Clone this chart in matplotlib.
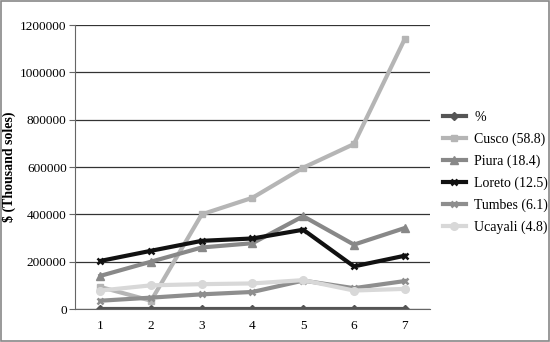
import matplotlib.pyplot as plt
from matplotlib.patches import Rectangle

periods = [1, 2, 3, 4, 5, 6, 7]
pct = [100, 100, 100, 100, 100, 100, 100]
cusco = [93000, 35000, 400000, 470000, 597000, 697000, 1140000]
piura = [140000, 200000, 260000, 278000, 392000, 272000, 342000]
loreto = [203000, 246000, 288000, 298000, 335000, 180000, 225000]
tumbes = [35000, 48000, 62000, 72000, 120000, 88000, 118000]
ucayali = [78000, 100000, 105000, 108000, 122000, 78000, 85000]

plt.rcParams['font.family'] = ['Liberation Serif', 'DejaVu Serif']

fig = plt.figure(figsize=(5.5, 3.42), dpi=100)
ax = fig.add_axes([75 / 550, 33 / 342, 355 / 550, 284 / 342])

# series drawn bottom to top like the original
ax.plot(periods, pct, color='#555555', marker='D', ms=4, lw=3, label='%')
ax.plot(periods, cusco, color='#b5b5b5', marker='s', ms=5, lw=3, label='Cusco (58.8)')
ax.plot(periods, piura, color='#888888', marker='^', ms=5.5, lw=3, label='Piura (18.4)')
ax.plot(periods, loreto, color='#111111', marker='x', ms=5, mew=1.8, lw=3, label='Loreto (12.5)')
ax.plot(periods, tumbes, color='#8e8e8e', marker='x', ms=5, mew=1.8, lw=3, label='Tumbes (6.1)')
ax.plot(periods, ucayali, color='#d8d8d8', marker='o', ms=5.5, lw=3, label='Ucayali (4.8)')

ax.set_xlim(0.5, 7.5)
ax.set_ylim(0, 1200000)
ax.set_xticks(periods)
ax.set_yticks(range(0, 1200001, 200000))
ax.ticklabel_format(axis='y', style='plain')
ax.yaxis.grid(True, color='#333333', lw=0.9)
ax.set_axisbelow(True)
for s in ['top', 'right']:
    ax.spines[s].set_visible(False)
ax.spines['left'].set_color('#666666')
ax.spines['bottom'].set_color('#666666')
ax.tick_params(axis='both', labelsize=9.5, length=4, color='#666666')
ax.tick_params(axis='y', pad=2)
ax.tick_params(axis='x', length=0, pad=8)
ax.set_ylabel('$ (Thousand soles)', fontsize=10, fontweight='bold')
ax.yaxis.set_label_coords(-0.165, 0.5)

ax.legend(loc='center left', bbox_to_anchor=(1.0, 0.48), frameon=False,
          fontsize=10, handlelength=1.7, handletextpad=0.6, labelspacing=0.62)

fig.patches.append(Rectangle((0.002, 0.003), 0.996, 0.994, transform=fig.transFigure,
                             fill=False, edgecolor='#888888', lw=1.2))

plt.savefig('out.png', dpi=100)
